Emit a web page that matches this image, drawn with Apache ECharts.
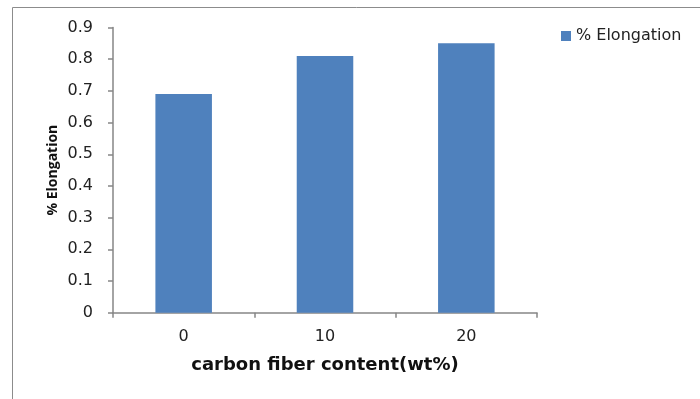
<!DOCTYPE html>
<html><head><meta charset="utf-8">
<script src="https://cdn.jsdelivr.net/npm/echarts@6/dist/echarts.min.js"></script>
<style>html,body{margin:0;padding:0;background:#fff}#c{width:700px;height:399px}</style>
</head><body><div id="c"></div>
<script>
const categories = ['0', '10', '20'];
const elongation = [0.69, 0.81, 0.85];
const seriesName = '% Elongation';
const xTitle = 'carbon fiber content(wt%)';
const yTitle = '% Elongation';

const chart = echarts.init(document.getElementById('c'), null, {renderer: 'canvas'});
const font = '"DejaVu Sans", sans-serif';
chart.setOption({
  animation: false,
  graphic: [{
    type: 'rect', shape: {x: 12.5, y: 7.5, width: 720, height: 420},
    style: {fill: 'none', stroke: '#8c8c8c', lineWidth: 1}, silent: true, z: -1
  }],
  legend: {
    data: [seriesName], left: 556, top: 23, itemWidth: 10, itemHeight: 10, itemGap: 6,
    icon: 'rect', textStyle: {fontFamily: font, fontSize: 16, color: '#222'}
  },
  grid: {left: 113, top: 27.5, right: 163, bottom: 86.3},
  xAxis: {
    type: 'category', data: categories,
    name: xTitle, nameLocation: 'middle', nameGap: 44,
    nameTextStyle: {fontFamily: font, fontSize: 18, fontWeight: 'bold', color: '#111'},
    axisLine: {lineStyle: {color: '#868686', width: 1.5}},
    axisTick: {show: true, length: 5, lineStyle: {color: '#868686', width: 1.5}},
    axisLabel: {fontFamily: font, fontSize: 16, color: '#222', margin: 16}
  },
  yAxis: {
    type: 'value', min: 0, max: 0.9, interval: 0.1,
    name: yTitle, nameLocation: 'middle', nameGap: 53, nameRotate: 90,
    nameMoveOverlap: false,
    nameTextStyle: {fontFamily: '"Open Sans", sans-serif', fontSize: 14, fontWeight: 'bold', color: '#111'},
    axisLine: {show: true, lineStyle: {color: '#868686', width: 1.5}},
    axisTick: {show: true, length: 5, lineStyle: {color: '#868686', width: 1.5}},
    splitLine: {show: false},
    axisLabel: {fontFamily: font, fontSize: 16, color: '#222', margin: 20,
      formatter: v => (Math.round(v * 10) / 10).toString()}
  },
  series: [{
    name: seriesName, type: 'bar', data: elongation, barWidth: '40%',
    itemStyle: {color: '#4F81BD'}
  }]
});
</script></body></html>
